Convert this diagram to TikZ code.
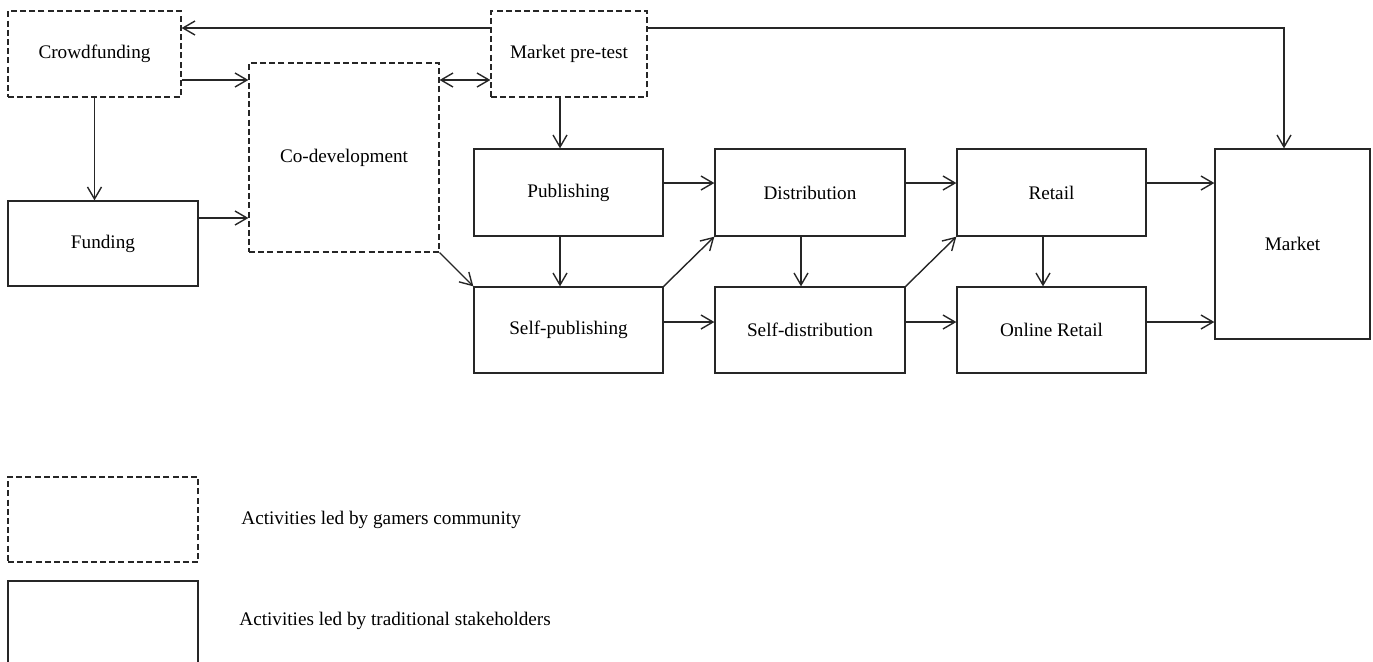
\documentclass[tikz,border=0pt]{standalone}
\usepackage{fontspec}
\setmainfont{Liberation Serif}
\usetikzlibrary{arrows.meta,calc}
\begin{document}
\begin{tikzpicture}[x=0.5pt,y=-0.5pt,
  font=\fontsize{9.6}{11.5}\selectfont,
  box/.style={draw=black!85, line width=0.65pt, rectangle, inner sep=0pt, align=center},
  cbox/.style={box, line width=0.6pt, dash pattern=on 3pt off 1.6pt},
  arr/.style={draw=black!85, line width=0.7pt, -{Straight Barb[length=6pt,width=7pt]}},
  darr/.style={draw=black!85, line width=0.7pt, {Straight Barb[length=6pt,width=7pt]}-{Straight Barb[length=6pt,width=7pt]}},
  legtext/.style={anchor=west, inner sep=0pt}
]
\useasboundingbox (0,0) rectangle (1373,661);

% community-led boxes
\node[cbox, minimum width=86.5pt, minimum height=43pt] (crowd) at (94.5,54) {Crowdfunding};
\node[cbox, minimum width=78pt, minimum height=43pt] (mpt) at (569,54) {Market pre-test};
\node[cbox, minimum width=95pt, minimum height=94.5pt] (codev) at (344,157.5) {Co-development};

% traditional boxes
\node[box, minimum width=95pt, minimum height=42.5pt] (fund) at (103,243.5) {Funding};
\node[box, minimum width=94.5pt, minimum height=43.5pt] (pub) at (568.5,192.5) {Publishing};
\node[box, minimum width=94.5pt, minimum height=43pt] (spub) at (568.5,330) {Self-publishing};
\node[box, minimum width=95pt, minimum height=43.5pt] (dist) at (810,192.5) {Distribution};
\node[box, minimum width=95pt, minimum height=43pt] (sdist) at (810,330) {Self-distribution};
\node[box, minimum width=94.5pt, minimum height=43.5pt] (ret) at (1051.5,192.5) {Retail};
\node[box, minimum width=94.5pt, minimum height=43pt] (oret) at (1051.5,330) {Online Retail};
\node[box, minimum width=77.5pt, minimum height=95pt] (mkt) at (1292.5,244) {Market};

% legend
\node[cbox, minimum width=95pt, minimum height=42.5pt] (leg1) at (103,519.5) {};
\node[box, minimum width=95pt, minimum height=42pt] (leg2) at (103,623) {};
\node[legtext] (leg1t) at (241,520) {Activities led by gamers community};
\node[legtext] (leg2t) at (239,621) {Activities led by traditional stakeholders};

% helper coordinates
\coordinate (ytop) at (0,28);
\coordinate (y80) at (0,80);
\coordinate (y218) at (0,218);
\coordinate (y183) at (0,183);
\coordinate (y322) at (0,322);
\coordinate (x560) at (560,0);
\coordinate (x801) at (801,0);
\coordinate (x1043) at (1043,0);
\coordinate (corner) at (1284,28);

% connectors
\draw[arr] (crowd.east |- y80) -- (codev.west |- y80);
\draw[arr] (fund.east |- y218) -- (codev.west |- y218);
\draw[arr] (crowd.south) -- (crowd.south |- fund.north);
\draw[darr] (codev.east |- y80) -- (mpt.west |- y80);
\draw[arr] (mpt.west |- ytop) -- (crowd.east |- ytop);
\draw[arr] (mpt.east |- ytop) -- (corner) -- (corner |- mkt.north);
\draw[arr] (x560 |- mpt.south) -- (x560 |- pub.north);

\draw[arr] (pub.east |- y183) -- (dist.west |- y183);
\draw[arr] (dist.east |- y183) -- (ret.west |- y183);
\draw[arr] (ret.east |- y183) -- (mkt.west |- y183);
\draw[arr] (spub.east |- y322) -- (sdist.west |- y322);
\draw[arr] (sdist.east |- y322) -- (oret.west |- y322);
\draw[arr] (oret.east |- y322) -- (mkt.west |- y322);

\draw[arr] (x560 |- pub.south) -- (x560 |- spub.north);
\draw[arr] (x801 |- dist.south) -- (x801 |- sdist.north);
\draw[arr] (x1043 |- ret.south) -- (x1043 |- oret.north);

\draw[arr] (codev.south east) -- (spub.north west);
\draw[arr] (spub.north east) -- (dist.south west);
\draw[arr] (sdist.north east) -- (ret.south west);
\end{tikzpicture}
\end{document}
